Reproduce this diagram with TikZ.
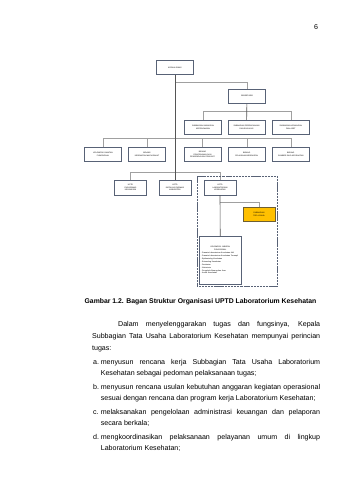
\documentclass[tikz,border=0pt]{standalone}
\usepackage{fontspec}
\setmainfont{Liberation Sans}
\usepackage{xcolor}
\usepackage{tikz}

\definecolor{boxline}{RGB}{88,98,118}
\definecolor{linkgray}{RGB}{160,160,160}
\definecolor{trunk}{RGB}{85,85,85}
\definecolor{gold}{RGB}{255,192,0}
\definecolor{goldline}{RGB}{110,95,50}

\newcommand{\orgfont}{\fontsize{3.2}{4.3}\selectfont}
\newcommand{\listfont}{\fontsize{3.2}{5.0}\selectfont}

\begin{document}
\begin{tikzpicture}[x=0.595mm,y=-0.595mm]
			\tikzstyle{unit}=[draw=boxline, line width=0.9pt, fill=white, minimum width=22mm, minimum height=8.3mm, align=center, font=\orgfont, inner sep=0.5pt]
			\tikzstyle{uptd}=[unit, minimum width=19mm, minimum height=8.9mm]
			\tikzstyle{tu}=[unit, fill=gold, draw=goldline, minimum width=18.9mm, minimum height=8.6mm]
			\tikzstyle{jafung}=[unit, minimum width=25.4mm, minimum height=28.1mm, text width=24mm]
			\tikzstyle{body}=[font=\fontsize{12}{20.2}\selectfont, align=justify, inner sep=0pt]
			\tikzset{link/.style = {draw=linkgray, line width=0.6pt}}
			\tikzset{main/.style = {draw=trunk, line width=1.1pt}}

			\useasboundingbox[fill=white] (0,0) rectangle (353,497);
			\node[font=\fontsize{12}{14}\selectfont](page) at (316,27) {6};

			% pimpinan
			\node[unit](kadis) at (175,67.7) {KEPALA DINAS};
			\node[unit](sekre) at (247,96.3) {SEKRETARIS};

			% subbagian
			\node[unit](subumum) at (203,127.2) {SUBBAGIAN UMUM DAN\\KEPEGAWAIAN};
			\node[unit](subprog) at (246.5,127.2) {SUBBAGIAN PERENCANAAN\\DAN EVALUASI};
			\node[unit](subkeu)  at (290.8,127.2) {SUBBAGIAN KEUANGAN\\DAN ASET};

			% jabatan fungsional + bidang
			\node[unit](jabfung) at (103,154.5)   {KELOMPOK JABATAN\\FUNGSIONAL};
			\node[unit](kesmas)  at (147,154.5)   {BIDANG\\KESEHATAN MASYARAKAT};
			\node[unit](p2p)     at (202.5,154.5) {BIDANG\\PENCEGAHAN DAN\\PENGENDALIAN PENYAKIT};
			\node[unit](yankes)  at (246.7,154.5) {BIDANG\\PELAYANAN KESEHATAN};
			\node[unit](sdk)     at (290.8,154.5) {BIDANG\\SUMBER DAYA KESEHATAN};

			% uptd
			\node[uptd](pkm)    at (130.5,187.5) {UPTD\\PUSKESMAS\\KECAMATAN};
			\node[uptd](ifk)    at (175,187.5)   {UPTD\\INSTALASI FARMASI\\KABUPATEN};
			\node[uptd](labkes) at (220,187.5)   {UPTD\\LABORATORIUM\\KESEHATAN};
			\node[tu](tatausaha) at (259,214.5) {SUBBAGIAN\\TATA USAHA};
			\node[jafung](fungsional) at (220.3,260.3) {KELOMPOK JABATAN\\FUNGSIONAL\\[1.5pt]
				\parbox{23mm}{\listfont\raggedright
				- Pranata Laboratorium Kesehatan Ahli\\
				- Pranata Laboratorium Kesehatan Terampil\\
				- Epidemiolog Kesehatan\\
				- Entomolog Kesehatan\\
				- Sanitarian\\
				- Nutrisionis\\
				- Pengelola Barang dan Jasa\\
				- Analis Kesehatan}};

			% garis komando
			\coordinate(bus1) at (175,82.3);
			\coordinate(bus2) at (247,110.7);
			\coordinate(bus3) at (175,138.3);
			\coordinate(bus4) at (175,171.7);
			\coordinate(bus5) at (220,201.7);
			\draw[link](bus1) -| (sekre);
			\draw[link](subumum) |- (bus2) -| (subkeu);
			\draw[link](jabfung) |- (bus3) -| (sdk);
			\draw[link](kesmas) -- (kesmas |- bus3);
			\draw[link](p2p) -- (p2p |- bus3);
			\draw[link](yankes) -- (yankes |- bus3);
			\draw[link](pkm) |- (bus4) -| (labkes);
			\draw[link](bus5) -| (tatausaha);
			\draw[main](kadis) -- (ifk);
			\draw[main](sekre) -- (subprog);
			\draw[main](labkes) -- (fungsional);

			% batas uptd
			\draw[draw=boxline, line width=0.6pt, dash pattern=on 2pt off 1.2pt on 0.5pt off 1.2pt] (196.7,176.5) rectangle (277.3,286);

			% keterangan
			\node[font=\bfseries\fontsize{11.6}{14}\selectfont](caption) at (200.5,301.5) {Gambar 1.2. Bagan Struktur Organisasi UPTD Laboratorium Kesehatan};

			\node[body, text width=135.7mm, anchor=base west](intro) at (92,326.7) {\hspace*{15.5mm}Dalam menyelenggarakan tugas dan fungsinya, Kepala\linebreak Subbagian Tata Usaha Laboratorium Kesehatan mempunyai perincian\linebreak tugas:};
			\node[body, text width=130.5mm, anchor=base west](itema) at (100.7,364) {menyusun rencana kerja Subbagian Tata Usaha Laboratorium\linebreak Kesehatan sebagai pedoman pelaksanaan tugas;};
			\node[body, text width=130.5mm, anchor=base west](itemb) at (100.7,389) {menyusun rencana usulan kebutuhan anggaran kegiatan operasional\linebreak sesuai dengan rencana dan program kerja Laboratorium Kesehatan;};
			\node[body, text width=130.5mm, anchor=base west](itemc) at (100.7,414) {melaksanakan pengelolaan administrasi keuangan dan pelaporan\linebreak secara berkala;};
			\node[body, text width=130.5mm, anchor=base west](itemd) at (100.7,439) {mengkoordinasikan pelaksanaan pelayanan umum di lingkup\linebreak Laboratorium Kesehatan;};
			\node[body, anchor=base west](laba) at (93,364) {a.};
			\node[body, anchor=base west](labb) at (93,389) {b.};
			\node[body, anchor=base west](labc) at (93,414) {c.};
			\node[body, anchor=base west](labd) at (93,439) {d.};
\end{tikzpicture}
\end{document}
